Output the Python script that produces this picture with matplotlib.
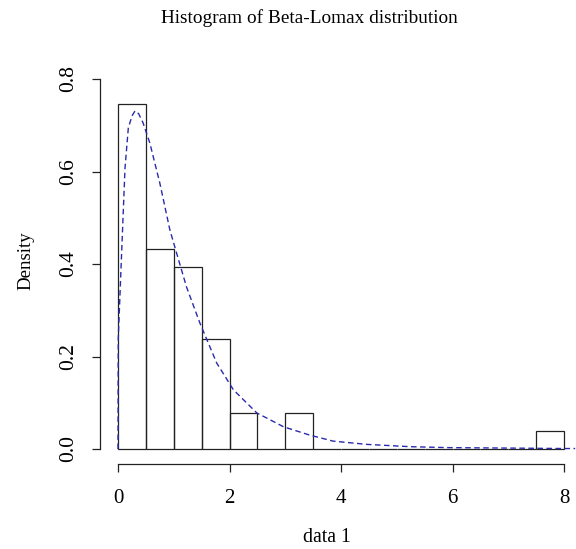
import matplotlib
matplotlib.use("Agg")
import matplotlib.pyplot as plt
import numpy as np

# Histogram data (bin edges and densities)
bin_edges = [0.0, 0.5, 1.0, 1.5, 2.0, 2.5, 3.0, 3.5, 4.0, 4.5, 5.0, 5.5, 6.0, 6.5, 7.0, 7.5, 8.0]
densities = [0.746, 0.432, 0.394, 0.238, 0.078, 0.0, 0.078, 0.0, 0.0, 0.0, 0.0, 0.0, 0.0, 0.0, 0.0, 0.039]

# Fitted Beta-Lomax density curve
curve_x = [0.0, 0.005, 0.066, 0.126, 0.185, 0.25, 0.305, 0.37, 0.45, 0.57, 0.75, 0.93, 1.05, 1.23,
           1.47, 1.77, 2.07, 2.49, 2.97, 3.44, 3.86, 4.46, 5.24, 5.9, 7.0, 8.0, 8.2]
curve_y = [0.0, 0.24, 0.427, 0.608, 0.694, 0.72, 0.731, 0.725, 0.705, 0.662, 0.575, 0.474, 0.424, 0.35,
           0.272, 0.186, 0.128, 0.078, 0.048, 0.030, 0.017, 0.010, 0.005, 0.003, 0.002, 0.001, 0.001]

x_ticks = [0, 2, 4, 6, 8]
y_ticks = [0.0, 0.2, 0.4, 0.6, 0.8]
y_tick_labels = ["0.0", "0.2", "0.4", "0.6", "0.8"]

plt.rcParams['font.family'] = ['Liberation Serif', 'DejaVu Serif']

W, H = 576, 549
fig = plt.figure(figsize=(W / 100, H / 100), dpi=100)

# pixel mapping: x=0 -> 118, x=8 -> 564 ; y=0 -> 449, y=0.8 -> 79
px_per_x = (564 - 118) / 8.0
px_per_y = (449 - 79) / 0.8
left_px, right_px = 100, 576
top_px, bottom_px = 64, 464
ax = fig.add_axes([left_px / W, 1 - bottom_px / H, (right_px - left_px) / W, (bottom_px - top_px) / H])
ax.set_xlim(0 - (118 - left_px) / px_per_x, 8 + (right_px - 564) / px_per_x)
ax.set_ylim(0 - (bottom_px - 449) / px_per_y, 0.8 + (79 - top_px) / px_per_y)

widths = np.diff(bin_edges)
ax.bar(bin_edges[:-1], densities, width=widths, align='edge', facecolor='none',
       edgecolor='#222222', linewidth=0.9)

ax.plot(curve_x, curve_y, color='#2a2aae', linestyle=(0, (4, 2.5)), linewidth=1.0, clip_on=False)

for s in ['top', 'right']:
    ax.spines[s].set_visible(False)
ax.spines['left'].set_bounds(0, 0.8)
ax.spines['bottom'].set_bounds(0, 8)
for s in ['left', 'bottom']:
    ax.spines[s].set_color('#222222')
    ax.spines[s].set_linewidth(0.9)

ax.set_xticks(x_ticks)
ax.set_xticklabels([str(t) for t in x_ticks], fontsize=15)
ax.set_yticks(y_ticks)
ax.set_yticklabels(y_tick_labels, fontsize=15.5, rotation=90, va='center')
ax.tick_params(axis='both', direction='out', length=6, width=0.9, color='#222222')
ax.tick_params(axis='x', pad=12)
ax.tick_params(axis='y', pad=10)

fig.text(309 / W, 1 - 18 / H, "Histogram of Beta-Lomax distribution", ha='center', va='center', fontsize=13.9)
fig.text(327 / W, 1 - 537 / H, "data 1", ha='center', va='center', fontsize=14.2)
fig.text(26 / W, 1 - 261 / H, "Density", ha='center', va='center', rotation=90, fontsize=13.6)

fig.savefig("out.png", dpi=100)
